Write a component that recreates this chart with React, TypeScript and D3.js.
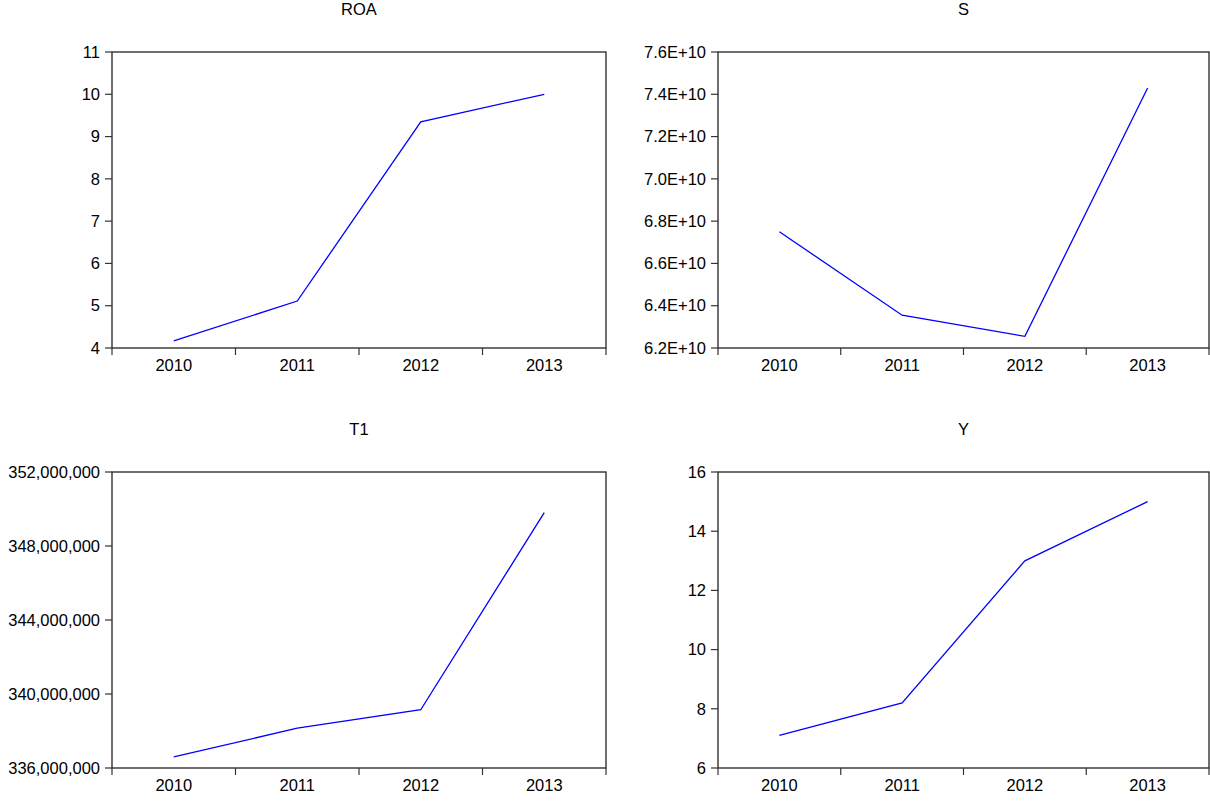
import { useEffect, useRef } from "react"
import * as d3 from "d3"

// categories
const years = ["2010", "2011", "2012", "2013"]

// series values
const roa = [4.17, 5.11, 9.35, 10.0]
const sales = [6.75e10, 6.355e10, 6.255e10, 7.43e10]
const t1 = [336.6e6, 338.15e6, 339.15e6, 349.8e6]
const yv = [7.1, 8.2, 13.0, 15.0]

// tick values
const roaTicks = [4, 5, 6, 7, 8, 9, 10, 11]
const salesTicks = [6.2e10, 6.4e10, 6.6e10, 6.8e10, 7.0e10, 7.2e10, 7.4e10, 7.6e10]
const t1Ticks = [336e6, 340e6, 344e6, 348e6, 352e6]
const yTicks = [6, 8, 10, 12, 14, 16]

const expFmt = (v) => {
  const e = Math.floor(Math.log10(v))
  return (v / Math.pow(10, e)).toFixed(1) + "E+" + e
}

const panels = [
  { name: "ROA", values: roa, ticks: roaTicks, fmt: (v) => String(v), x0: 112, x1: 606, y0: 52, y1: 348 },
  { name: "S", values: sales, ticks: salesTicks, fmt: expFmt, x0: 718, x1: 1209, y0: 52, y1: 348 },
  { name: "T1", values: t1, ticks: t1Ticks, fmt: d3.format(","), x0: 112, x1: 606, y0: 472, y1: 768 },
  { name: "Y", values: yv, ticks: yTicks, fmt: (v) => String(v), x0: 718, x1: 1209, y0: 472, y1: 768 },
]

const App = () => {
  const ref = useRef()

  useEffect(() => {
    const svg = d3.select(ref.current)
    svg.selectAll("*").remove()

    panels.forEach((p) => {
      const xScale = d3.scaleBand().domain(years).range([p.x0, p.x1]).padding(0)
      const yScale = d3.scaleLinear()
        .domain([p.ticks[0], p.ticks[p.ticks.length - 1]])
        .range([p.y1, p.y0])

      const g = svg.append("g")
        .attr("font-family", "Arial, 'Liberation Sans', sans-serif")
        .attr("font-size", 16.5)

      // title
      g.append("text")
        .attr("x", (p.x0 + p.x1) / 2)
        .attr("y", p.y0 - 37)
        .attr("text-anchor", "middle")
        .attr("fill", "#000")
        .text(p.name)

      // frame
      g.append("rect")
        .attr("x", p.x0)
        .attr("y", p.y0)
        .attr("width", p.x1 - p.x0)
        .attr("height", p.y1 - p.y0)
        .attr("fill", "none")
        .attr("stroke", "#222")
        .attr("stroke-width", 1.3)

      // x ticks at band edges
      const edges = years.map((c) => xScale(c)).concat([p.x1])
      g.append("g")
        .selectAll("line")
        .data(edges)
        .join("line")
        .attr("x1", (d) => d)
        .attr("x2", (d) => d)
        .attr("y1", p.y1)
        .attr("y2", p.y1 + 7)
        .attr("stroke", "#333")
        .attr("stroke-width", 1.2)

      g.append("g")
        .selectAll("text")
        .data(years)
        .join("text")
        .attr("x", (d) => xScale(d) + xScale.bandwidth() / 2)
        .attr("y", p.y1 + 23)
        .attr("text-anchor", "middle")
        .text((d) => d)

      // y ticks
      g.append("g")
        .selectAll("line")
        .data(p.ticks)
        .join("line")
        .attr("x1", p.x0 - 7)
        .attr("x2", p.x0)
        .attr("y1", (d) => yScale(d))
        .attr("y2", (d) => yScale(d))
        .attr("stroke", "#333")
        .attr("stroke-width", 1.2)

      g.append("g")
        .selectAll("text")
        .data(p.ticks)
        .join("text")
        .attr("x", p.x0 - 12)
        .attr("y", (d) => yScale(d))
        .attr("dy", "0.35em")
        .attr("text-anchor", "end")
        .text((d) => p.fmt(d))

      // series line
      const line = d3.line()
        .x((d, i) => xScale(years[i]) + xScale.bandwidth() / 2)
        .y((d) => yScale(d))

      g.append("path")
        .datum(p.values)
        .attr("fill", "none")
        .attr("stroke", "#0000ff")
        .attr("stroke-width", 1.3)
        .attr("d", line)
    })
  }, [])

  return (
    <svg
      ref={ref}
      width={1210}
      height={801}
      style={{ position: "absolute", left: 0, top: 0, background: "#fff" }}
    />
  )
}

export default App
